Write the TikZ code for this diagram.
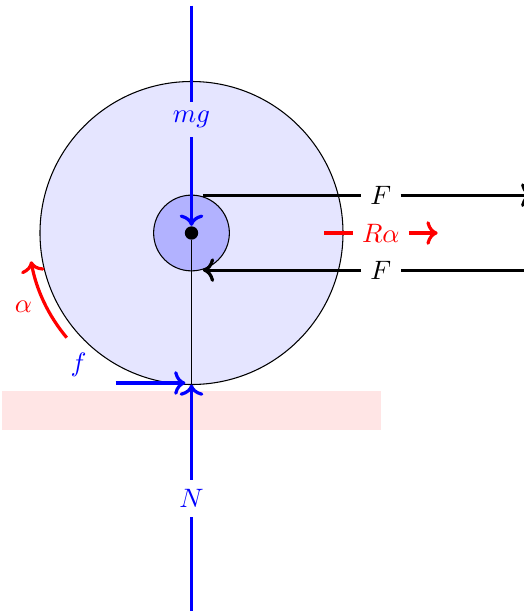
\documentclass[tikz,border=0pt]{standalone}
\usepackage{amsmath,amssymb}
\usetikzlibrary{arrows.meta,positioning}

\begin{document}
\begin{tikzpicture}[
      force/.style={->,very thick},
      lbl/.style={inner sep=3.3pt},
      every node/.style={font=\normalsize}
    ]
      \useasboundingbox (-2.528,-4.99) rectangle (4.389,3.076);
      \fill[red!10] (-2.5,-2.09) rectangle (2.5,-2.6);
      \draw[fill=blue!10] (0,0) circle (2);
      \draw[fill=blue!30] (0,0) circle (0.5);
      \node[circle,fill=black,inner sep=0pt,minimum size=5pt] (cog) at (0,0) {};
      \coordinate (contact) at (0,-2);
      \draw (cog) -- (contact);
      \coordinate (mgtop) at (0,3);
      \node[lbl,blue] (mg) at (0,1.5) {$mg$};
      \draw[force,blue] (mgtop) -- (mg) -- (cog);
      \coordinate (nbot) at (0,-5);
      \node[lbl,blue] (N) at (0,-3.5) {$N$};
      \draw[force,blue] (nbot) -- (N) -- (contact);
      \coordinate (fstart) at (-1,-1.98);
      \coordinate (fend) at (-0.08,-1.98);
      \draw[force,blue] (fstart) -- (fend);
      \node[blue] (f) at (-1.49,-1.74) {$f$};
      \coordinate (ftop) at (0.15,0.5);
      \coordinate (ftopend) at (4.5,0.5);
      \node[lbl] (Fa) at (2.5,0.5) {$F$};
      \draw[force] (ftop) -- (Fa) -- (ftopend);
      \coordinate (fbotstart) at (4.5,-0.49);
      \coordinate (fbot) at (0.15,-0.49);
      \node[lbl] (Fb) at (2.5,-0.49) {$F$};
      \draw[force] (fbotstart) -- (Fb) -- (fbot);
      \coordinate (rstart) at (1.75,0);
      \coordinate (rend) at (3.25,0);
      \node[lbl,red] (Ra) at (2.5,0) {$R\alpha$};
      \draw[force,red] (rstart) -- (Ra) -- (rend);
      \draw[force,red] (220:2.15) arc (220:190:2.15);
      \node[red] (alpha) at (-2.22,-0.97) {$\alpha$};
    \end{tikzpicture}
\end{document}
